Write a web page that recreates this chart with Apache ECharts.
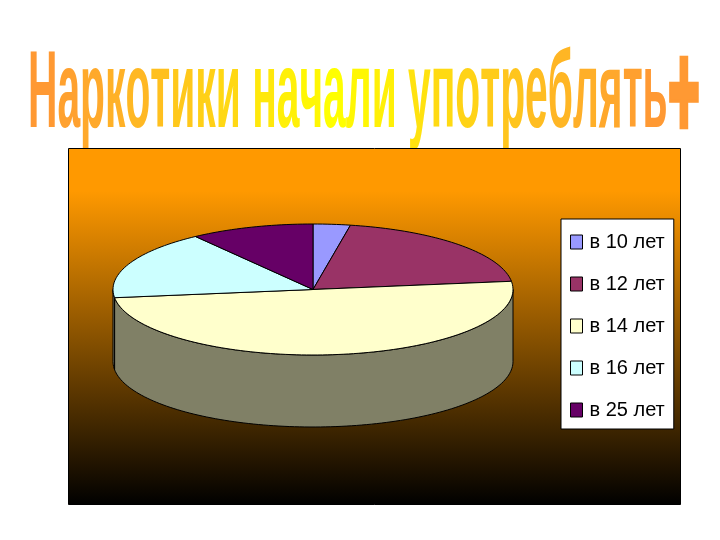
<!DOCTYPE html>
<html><head><meta charset="utf-8">
<style>html,body{margin:0;padding:0;background:#fff}#c{width:720px;height:540px}</style>
<script src="https://cdn.jsdelivr.net/npm/echarts@6/dist/echarts.min.js"></script>
</head><body><div id="c"></div>
<script>
const titleText = "Наркотики начали употреблять";
const titleSuffix = "+";
const categories = ["в 10 лет","в 12 лет","в 14 лет","в 16 лет","в 25 лет"];
const values = [3,20,50,17,10];
const colors = ["#9999FF","#993366","#FFFFCC","#CCFFFF","#660066"];
const wallColor = "#808066";
const total = values.reduce((a,b)=>a+b,0);
const cx=313, cy=289.5, rx=200, ry=65.5, depth=72;
function pt(t,dy){const r=t*Math.PI/180;return [cx+rx*Math.sin(r),cy-ry*Math.cos(r)+(dy||0)];}
function arc(a,b,dy){const pts=[];const n=Math.max(2,Math.ceil((b-a)/1.5));for(let i=0;i<=n;i++)pts.push(pt(a+(b-a)*i/n,dy));return pts;}
function renderSlice(params,api){
  const idx=params.seriesIndex;
  let before=0;for(let i=0;i<idx;i++)before+=values[i];
  const a0=before/total*360,a1=(before+api.value(0))/total*360;
  const children=[];
  const wa=Math.max(a0,90),wb=Math.min(a1,270);
  if(wb>wa){
    const top=arc(wa,wb,0),bot=arc(wa,wb,depth).reverse();
    children.push({type:'polygon',shape:{points:top.concat(bot)},style:{fill:wallColor,stroke:'#000',lineWidth:1}});
  }
  children.push({type:'polygon',shape:{points:[[cx,cy]].concat(arc(a0,a1,0))},style:{fill:colors[idx],stroke:'#000',lineWidth:1}});
  return {type:'group',children};
}
// title gradient: one colour per letter, orange -> yellow -> orange
function titleColor(f){
  const p=0.48,u=f<p?f/p:(1-f)/(1-p);
  return 'rgb(255,'+Math.round(153+102*u)+','+Math.round(51-51*u)+')';
}
const shadow={textShadowColor:'#aaaaaa',textShadowOffsetX:2,textShadowOffsetY:2,textShadowBlur:0};
const rich={};let fmt='';
[...titleText].forEach((ch,i,arr)=>{
  rich['c'+i]=Object.assign({fill:titleColor(i/(arr.length-1)),font:'bold 109px "Liberation Sans"'},shadow);
  fmt+='{c'+i+'|'+ch+'}';
});
const chart=echarts.init(document.getElementById('c'),null,{renderer:'canvas',width:720,height:540});
chart.setOption({
  animation:false,
  backgroundColor:'#fff',
  graphic:[
    {type:'rect',z:-1,silent:true,shape:{x:68.5,y:148.5,width:612,height:356},
     style:{stroke:'#000',lineWidth:1,fill:new echarts.graphic.LinearGradient(0,0,0,1,[
       {offset:0,color:'#FF9900'},{offset:0.12,color:'#FF9900'},{offset:1,color:'#000000'}])}},
    {type:'text',z:-2,silent:true,x:28,y:151,scaleX:0.374,scaleY:1,
     style:Object.assign({text:fmt,rich,font:'bold 109px "Liberation Sans"',textVerticalAlign:'bottom',textAlign:'left'},shadow)},
    {type:'text',z:-2,silent:true,x:684,y:166,scaleX:0.67,scaleY:1.65,
     style:Object.assign({text:titleSuffix,font:'bold 80px "Liberation Sans"',fill:'#FF9933',stroke:'#FF9933',lineWidth:4,textVerticalAlign:'bottom',textAlign:'center'},shadow)}
  ],
  legend:{
    orient:'vertical',left:561,top:219,
    data:categories,backgroundColor:'#fff',borderColor:'#000',borderWidth:1,
    padding:[13,9,9,9],itemGap:22,itemWidth:12,itemHeight:14,icon:'rect',selectedMode:false,
    itemStyle:{borderColor:'#000',borderWidth:1},
    textStyle:{fontFamily:'"Liberation Sans"',fontSize:20,color:'#000',padding:[0,0,0,2]}
  },
  series:categories.map((name,i)=>({
    type:'custom',name,coordinateSystem:'none',silent:true,
    itemStyle:{color:colors[i]},
    renderItem:renderSlice,
    data:[[values[i]]]
  }))
});
</script></body></html>
